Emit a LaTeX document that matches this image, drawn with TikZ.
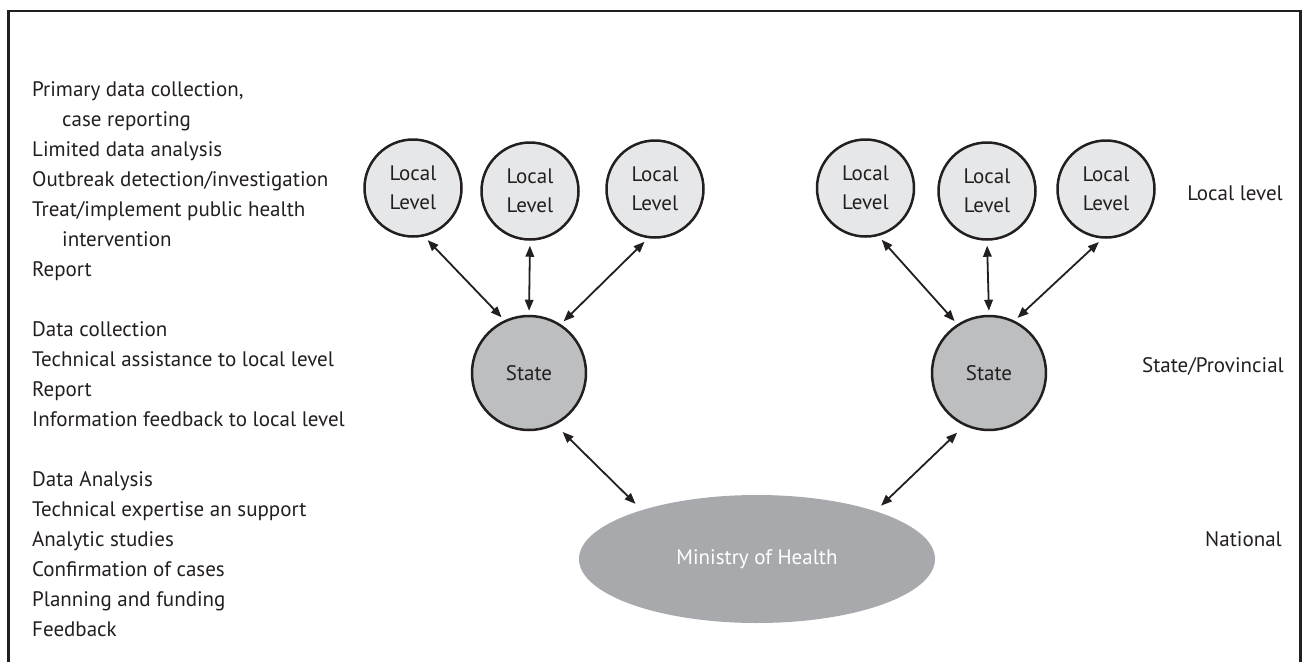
\documentclass[tikz,border=0pt]{standalone}
\usepackage{fontspec}
\setmainfont{PT Sans}
\usetikzlibrary{shapes.geometric,arrows.meta}
\definecolor{ink}{HTML}{231F20}
\definecolor{locfill}{HTML}{E6E7E8}
\definecolor{statefill}{HTML}{BCBEC0}
\definecolor{natfill}{HTML}{A7A9AC}
\tikzset{
  lt/.style={anchor=base west, inner sep=0pt, text=ink},
  rt/.style={anchor=base east, inner sep=0pt, text=ink},
  loc/.style={circle, draw=ink, line width=2.5pt, fill=locfill, minimum size=97pt, inner sep=0pt, align=center, text=ink},
  statebox/.style={circle, draw=ink, line width=2.5pt, fill=statefill, minimum size=114pt, inner sep=0pt, text=ink},
  natbox/.style={ellipse, fill=natfill, minimum width=356pt, minimum height=128pt, inner sep=0pt, outer sep=0pt, text=white},
  arr/.style={{Triangle[length=11pt,width=8.5pt]}-{Triangle[length=11pt,width=8.5pt]}, draw=ink, line width=1.8pt}
}
\begin{document}
\begin{tikzpicture}[x=1pt,y=-1pt,font=\fontsize{21}{29}\selectfont]
\useasboundingbox[fill=white] (0,0) rectangle (1302,662);
\draw[ink,line width=2.2pt] (8.5,662) -- (8.5,11) -- (1300.5,11) -- (1300.5,662);

% left column
\node[lt] (t0) at (32,96) {Primary data collection,};
\node[lt] (t1) at (62,126) {case reporting};
\node[lt] (t2) at (32,156) {Limited data analysis};
\node[lt] (t3) at (32,186) {Outbreak detection/investigation};
\node[lt] (t4) at (32,216) {Treat/implement public health};
\node[lt] (t5) at (62,246) {intervention};
\node[lt] (t6) at (32,276) {Report};
\node[lt] (t8) at (32,336) {Data collection};
\node[lt] (t9) at (32,366) {Technical assistance to local level};
\node[lt] (t10) at (32,396) {Report};
\node[lt] (t11) at (32,426) {Information feedback to local level};
\node[lt] (t13) at (32,486) {Data Analysis};
\node[lt] (t14) at (32,516) {Technical expertise an support};
\node[lt] (t15) at (32,546) {Analytic studies};
\node[lt] (t16) at (32,576) {Confirmation of cases};
\node[lt] (t17) at (32,606) {Planning and funding};
\node[lt] (t18) at (32,636) {Feedback};

% right labels
\node[rt] (rl1) at (1283,200) {Local level};
\node[rt] (rl2) at (1284,372) {State/Provincial};
\node[rt] (rl3) at (1282,546) {National};

% nodes
\node[loc] (L1) at (413,188) {Local\\Level};
\node[loc] (L2) at (530,191) {Local\\Level};
\node[loc] (L3) at (655,189) {Local\\Level};
\node[loc] (R1) at (865.5,188) {Local\\Level};
\node[loc] (R2) at (987,191) {Local\\Level};
\node[loc] (R3) at (1106,189) {Local\\Level};
\node[statebox] (S1) at (529,373) {State};
\node[statebox] (S2) at (989,373) {State};
\node[natbox] (M) at (757,559) {Ministry of Health};

% connectors
\draw[arr, shorten <=5pt, shorten >=4pt] (L1.-77.5) -- (S1.115);
\draw[arr, shorten <=5pt, shorten >=4pt] (L2.-90) -- (S1.90);
\draw[arr, shorten <=5pt, shorten >=4pt] (L3.-98) -- (S1.57.5);
\draw[arr, shorten <=5pt, shorten >=4pt] (R1.-75) -- (S2.123);
\draw[arr, shorten <=5pt, shorten >=4pt] (R2.-90) -- (S2.90);
\draw[arr, shorten <=5pt, shorten >=4pt] (R3.-94) -- (S2.64.6);
\draw[arr, shorten <=10pt, shorten >=9pt] (S1.-63.4) -- (M.157.6);
\draw[arr, shorten <=10pt, shorten >=8pt] (S2.-115) -- (M.22.9);
\end{tikzpicture}
\end{document}
